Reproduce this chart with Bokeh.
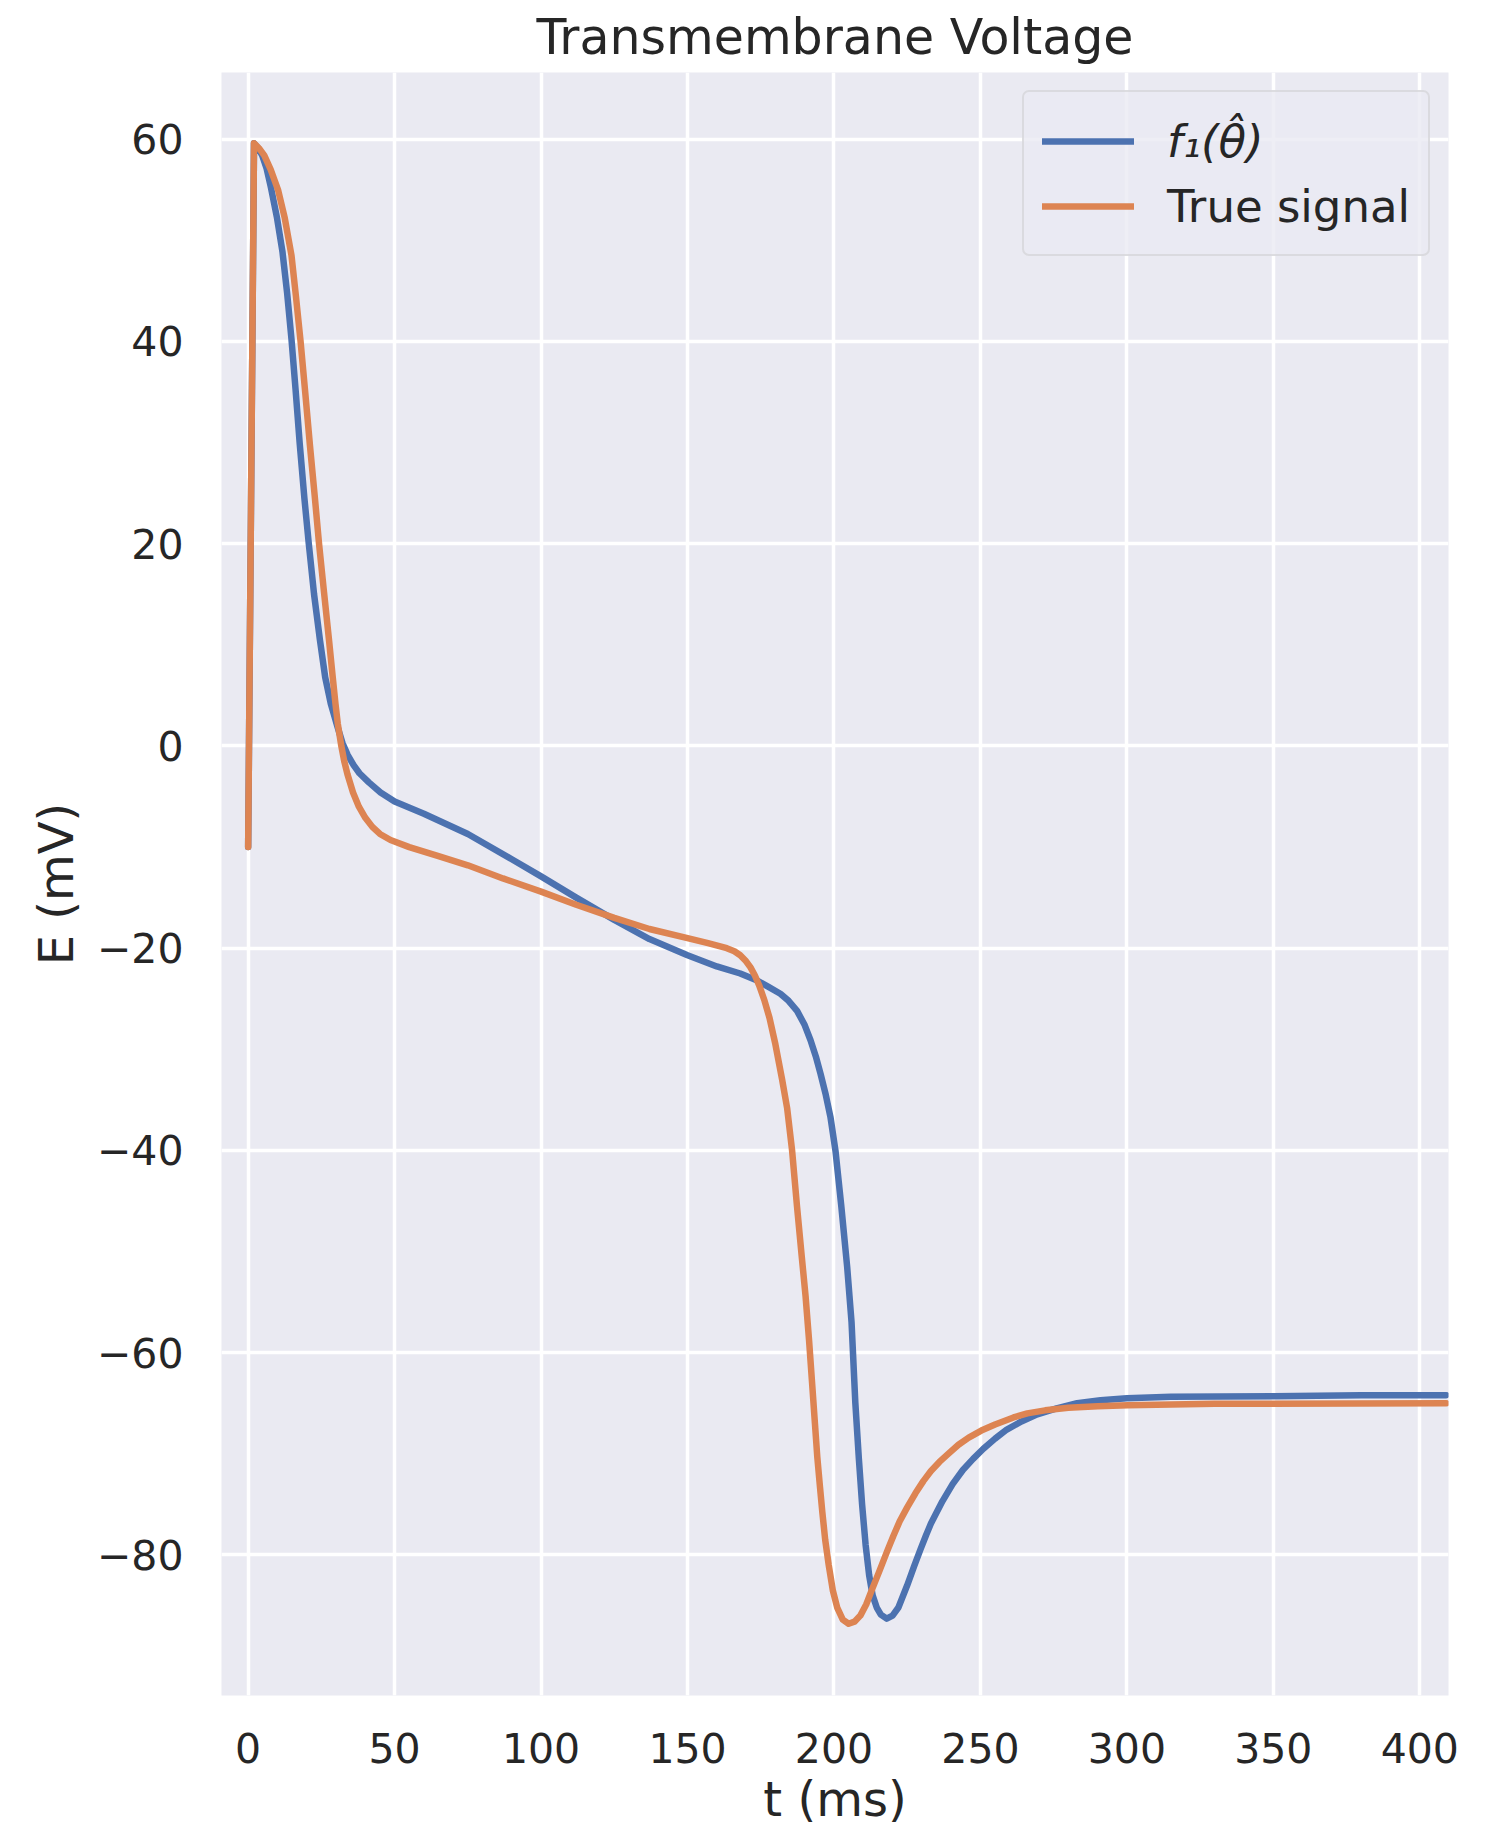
from bokeh.plotting import figure
from bokeh.models import Range1d, FixedTicker, Legend, LegendItem, ColumnDataSource
from bokeh.embed import file_html
from bokeh.resources import INLINE

# Fitted model f1(theta_hat): time (ms) and transmembrane voltage (mV)
fit_t = [0, 2, 3.5, 4.8, 6.3, 7.8, 9.8, 11.7, 13.3, 14.8,
         16.2, 17.6, 19.2, 20.7, 22.5, 24.5, 26.3, 28.2, 30.4, 32.2,
         34, 36, 38, 41.2, 45.2, 50, 60, 75, 90, 100,
         112, 125, 137, 150, 160, 168, 173.8, 177.5, 181.7, 184.5,
         187.4, 190, 192, 193.8, 195.4, 197.2, 198.8, 200.5, 202.5, 204.5,
         206, 207.3, 208.5, 209.6, 210.8, 212, 213.2, 214.6, 216, 218,
         220, 222, 225, 227.5, 229.6, 231.5, 233.1, 237, 240.5, 244,
         247.5, 251, 255, 259, 264, 269.4, 276, 283, 291, 300,
         315, 350, 380, 409]
fit_e = [-10, 59.6, 59.1, 58.4, 57.1, 55.2, 52.3, 48.9, 44.8, 40.2,
         35.2, 29.9, 24.5, 20.0, 15.0, 10.5, 6.8, 4.2, 2.0, 0.3,
         -0.9, -1.9, -2.7, -3.6, -4.6, -5.5, -6.7, -8.7, -11.2, -12.9,
         -15.0, -17.2, -19.1, -20.7, -21.8, -22.5, -23.2, -23.8, -24.5, -25.2,
         -26.2, -27.6, -29.1, -30.7, -32.4, -34.5, -36.7, -40.0, -45.5, -51.5,
         -57.0, -65.0, -70.5, -75.0, -79.0, -82.0, -84.0, -85.2, -85.9, -86.3,
         -86.0, -85.2, -83.0, -81.0, -79.4, -78.0, -76.9, -74.7, -73.0, -71.6,
         -70.5, -69.5, -68.5, -67.6, -66.8, -66.1, -65.5, -65.0, -64.7, -64.5,
         -64.35, -64.3, -64.2, -64.2]

# Measured (true) signal
true_t = [0, 2, 4, 5.5, 7.7, 10.2, 12.5, 14.8, 16.3, 17.9,
          19.5, 21.1, 22.7, 24.2, 25.9, 27.6, 28.8, 29.8, 30.6, 31.8,
          32.8, 33.9, 35.8, 37.8, 40, 42.4, 45, 48.6, 55, 65,
          75, 87, 100, 112, 125, 137, 150, 157, 163.4, 166,
          168, 170, 171.5, 173, 174.5, 176.3, 178, 180, 182.3, 184,
          185.7, 187.4, 189, 190.3, 191.5, 192.6, 193.5, 194.3, 195.2, 196,
          197, 198.2, 199.6, 201.1, 203, 205, 207, 209, 211, 213,
          215.5, 218.2, 220.3, 222.4, 225, 227.8, 230.5, 233.1, 236, 239,
          242.5, 246, 250.3, 255, 261.3, 266, 272.1, 280, 290, 300.3,
          330, 409]
true_e = [-10, 59.6, 59.0, 58.4, 57.0, 55.0, 52.2, 48.5, 44.5, 40.0,
          34.9, 29.7, 24.8, 20.0, 15.2, 10.5, 7.0, 4.2, 2.2, 0.0,
          -1.5, -2.8, -4.6, -6.0, -7.1, -8.0, -8.7, -9.3, -10.0, -10.9,
          -11.8, -13.1, -14.4, -15.7, -17.0, -18.1, -19.0, -19.5, -20.0, -20.3,
          -20.7, -21.3, -21.9, -22.7, -23.7, -25.2, -26.9, -29.5, -33.0, -35.8,
          -40.0, -45.6, -50.5, -54.4, -58.8, -63.3, -67.0, -70.3, -73.2, -75.7,
          -78.5, -81.0, -83.5, -85.2, -86.4, -86.8, -86.6, -86.0, -84.9, -83.4,
          -81.6, -79.6, -78.1, -76.7, -75.3, -73.9, -72.7, -71.7, -70.8, -70.0,
          -69.1, -68.4, -67.7, -67.1, -66.4, -66.0, -65.7, -65.45, -65.3, -65.2,
          -65.05, -65.0]

x_ticks = [0, 50, 100, 150, 200, 250, 300, 350, 400]
y_ticks = [-80, -60, -40, -20, 0, 20, 40, 60]

series_labels = ["f\u2081(\u03b8\u0302)", "True signal"]
series_colors = ["#4c72b0", "#dd8452"]

TEXT = "#262626"
BG = "#eaeaf2"
FONT = "DejaVu Sans"

p = figure(width=1504, height=1829, output_backend="svg", toolbar_location=None,
           x_range=Range1d(-9.1, 409.8), y_range=Range1d(-93.9, 66.6),
           title="Transmembrane Voltage",
           min_border_left=221, min_border_right=56,
           min_border_top=72, min_border_bottom=133)

p.background_fill_color = BG
p.border_fill_color = "white"
p.outline_line_color = None

p.title.align = "center"
p.title.text_font = FONT
p.title.text_font_size = "49px"
p.title.text_font_style = "normal"
p.title.text_color = TEXT
p.title.standoff = 13

p.xaxis.ticker = FixedTicker(ticks=x_ticks)
p.yaxis.ticker = FixedTicker(ticks=y_ticks)
p.yaxis.major_label_overrides = {v: (str(v).replace("-", "\u2212")) for v in y_ticks}

for ax in (p.xaxis, p.yaxis):
    ax.axis_line_color = None
    ax.major_tick_line_color = None
    ax.minor_tick_line_color = None
    ax.major_tick_out = 0
    ax.major_tick_in = 0
    ax.major_label_text_font = FONT
    ax.major_label_text_font_size = "41px"
    ax.major_label_text_color = TEXT
    ax.axis_label_text_font = FONT
    ax.axis_label_text_font_size = "48px"
    ax.axis_label_text_font_style = "normal"
    ax.axis_label_text_color = TEXT

p.xaxis.axis_label = "t (ms)"
p.yaxis.axis_label = "E (mV)"
p.xaxis.major_label_standoff = 37
p.xaxis.axis_label_standoff = 5
p.yaxis.major_label_standoff = 38
p.yaxis.axis_label_standoff = 10

p.grid.grid_line_color = "white"
p.grid.grid_line_width = 3.5
p.xgrid.ticker = FixedTicker(ticks=x_ticks)
p.ygrid.ticker = FixedTicker(ticks=y_ticks)

fit_src = ColumnDataSource(dict(t=fit_t, e=fit_e))
true_src = ColumnDataSource(dict(t=true_t, e=true_e))

r_fit = p.line("t", "e", source=fit_src, line_color=series_colors[0], line_width=6.5,
               line_join="round", line_cap="round")
r_true = p.line("t", "e", source=true_src, line_color=series_colors[1], line_width=6.5,
                line_join="round", line_cap="round")


def style_legend(lg, framed):
    lg.padding = 18
    lg.spacing = 6
    lg.glyph_width = 92
    lg.glyph_height = 60
    lg.label_height = 60
    lg.label_width = 240
    lg.label_standoff = 33
    lg.label_text_font = FONT
    lg.label_text_font_size = "45px"
    lg.label_text_color = TEXT
    if framed:
        lg.background_fill_color = BG
        lg.background_fill_alpha = 0.8
        lg.border_line_color = "#cccccc"
        lg.border_line_width = 2.5
        lg.border_radius = 7
    else:
        lg.background_fill_alpha = 0
        lg.border_line_color = None


# Framed legend: an empty first row, then "True signal".
legend_box = Legend(items=[LegendItem(label=" ", renderers=[]),
                           LegendItem(label=series_labels[1], renderers=[r_true])],
                    location="top_right")
style_legend(legend_box, True)
legend_box.margin = 18
p.add_layout(legend_box)

# Italic model entry, placed over the empty first row of the framed legend.
legend_fit = Legend(items=[LegendItem(label=series_labels[0], renderers=[r_fit])],
                    location=(821, 1524))
style_legend(legend_fit, False)
legend_fit.margin = 0
legend_fit.label_text_font_style = "italic"
p.add_layout(legend_fit)

open("out.html", "w").write(file_html(p, INLINE))
